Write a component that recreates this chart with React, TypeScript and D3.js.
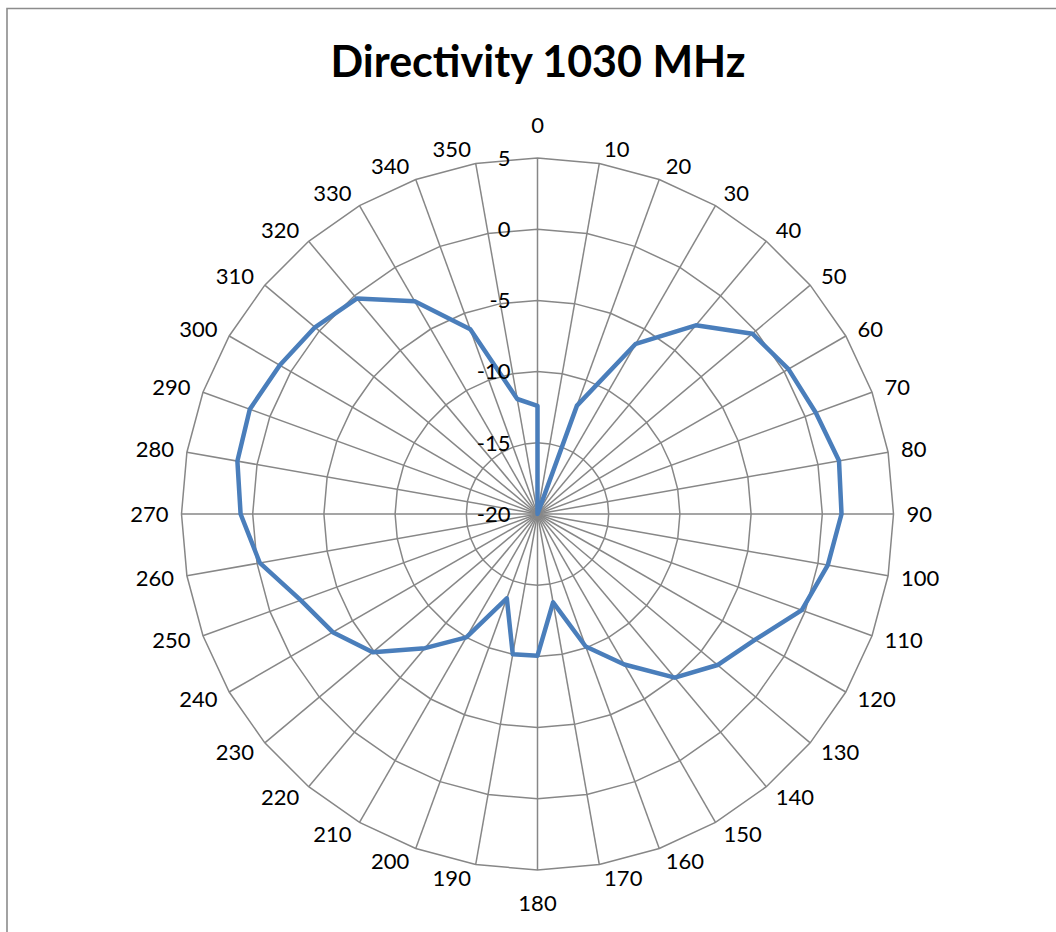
import React from "react";
import * as d3 from "d3";

const angles: number[] = d3.range(0, 360, 10);
const directivity: number[] = [
  -12.4, -20, -11.9, -6.2, -2.7, -0.3, 0.35, 0.8, 1.5, 1.35,
  0.7, -0.25, -2.35, -3.5, -5.0, -7.8, -10.1, -13.7, -10.05, -10.0,
  -13.7, -10.0, -7.7, -4.9, -3.4, -2.3, -0.2, 0.85, 1.4, 1.5,
  0.9, 0.4, -0.25, -2.75, -6.2, -11.8,
];
const radialTicks: number[] = [-20, -15, -10, -5, 0, 5];
const angleLabels: string[] = angles.map((a) => String(a));
const title = "Directivity 1030 MHz";

const W = 1056;
const H = 932;
const cx = 537.5;
const cy = 514;
const R = 356;
const FONT = "Lato, 'Open Sans', sans-serif";

export default function App() {
  const r = d3.scaleLinear().domain([-20, 5]).range([0, R]);
  const toRad = (deg: number) => (deg * Math.PI) / 180;

  const gridLine = d3
    .lineRadial<number>()
    .angle((a) => toRad(a))
    .curve(d3.curveLinearClosed);

  const dataLine = d3
    .lineRadial<number>()
    .angle((_, i) => toRad(angles[i]))
    .radius((v) => r(v))
    .curve(d3.curveLinearClosed);

  const gridLevels = radialTicks.filter((t) => t > -20);

  const labelW = (s: string) => s.length * 12.8;

  return (
    <div style={{ position: "absolute", left: 0, top: 0 }}>
      <svg width={W} height={H} style={{ display: "block", background: "#fff" }}>
        <path d={`M7,${H} L7,8.5 L${W},8.5`} fill="none" stroke="#8c8c8c" strokeWidth={1.6} />
        <text
          x={538}
          y={77}
          textAnchor="middle"
          fontFamily={FONT}
          fontWeight="bold"
          fontSize={43}
          fill="#000"
        >
          {title}
        </text>
        <g transform={`translate(${cx},${cy})`}>
          {gridLevels.map((lv) => (
            <path
              key={lv}
              d={gridLine.radius(() => r(lv))(angles) || ""}
              fill="none"
              stroke="#878787"
              strokeWidth={1.5}
            />
          ))}
          {angles.map((a) => {
            const x = Math.sin(toRad(a)) * r(5);
            const y = -Math.cos(toRad(a)) * r(5);
            return (
              <line key={a} x1={0} y1={0} x2={x} y2={y} stroke="#878787" strokeWidth={1.5} />
            );
          })}
          <path
            d={dataLine(directivity) || ""}
            fill="none"
            stroke="#4a7ebb"
            strokeWidth={4.5}
            strokeLinejoin="round"
          />
          {radialTicks.map((t) => (
            <text
              key={t}
              x={-27}
              y={-r(t)}
              dy="0.35em"
              textAnchor="end"
              fontFamily={FONT}
              fontSize={22}
              fill="#000"
            >
              {t}
            </text>
          ))}
          {angles.map((a, i) => {
            const sx = Math.sin(toRad(a));
            const sy = -Math.cos(toRad(a));
            const vx = sx * r(5);
            const vy = sy * r(5);
            const w = labelW(angleLabels[i]);
            let lx: number;
            let ly: number;
            if (Math.abs(sx) < 0.01) {
              lx = vx;
              ly = vy + sy * 33;
            } else {
              lx = vx + Math.sign(sx) * (w / 2 + 3 + 10 * Math.abs(sx));
              ly = vy + sy * 14;
            }
            return (
              <text
                key={a}
                x={lx}
                y={ly}
                dy="0.35em"
                textAnchor="middle"
                fontFamily={FONT}
                fontSize={22}
                fill="#000"
              >
                {angleLabels[i]}
              </text>
            );
          })}
        </g>
      </svg>
    </div>
  );
}
